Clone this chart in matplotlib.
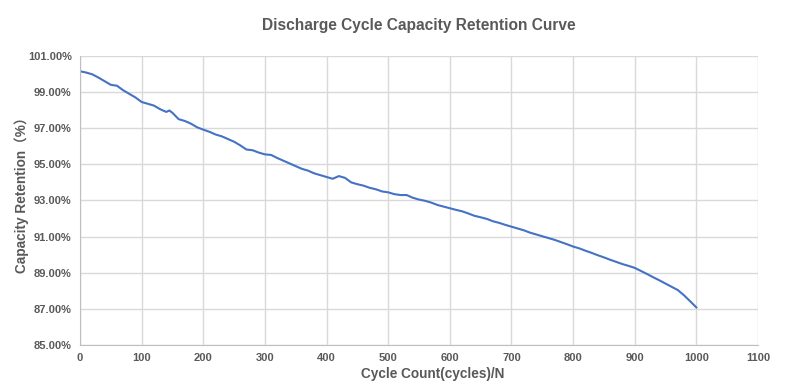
import matplotlib.pyplot as plt
from matplotlib.ticker import FuncFormatter

cycles = [0, 10, 20, 30, 40, 50, 60, 70, 80, 90,
          100, 110, 120, 130, 140, 145, 150, 160, 170, 180, 190,
          200, 210, 220, 230, 240, 250, 260, 270, 280, 290,
          300, 310, 320, 330, 340, 350, 360, 370, 380, 390,
          400, 410, 420, 430, 440, 450, 460, 470, 480, 490,
          500, 510, 520, 530, 540, 550, 560, 570, 580, 590,
          600, 610, 620, 630, 640, 650, 660, 670, 680, 690,
          700, 710, 720, 730, 740, 750, 760, 770, 780, 790,
          800, 810, 820, 830, 840, 850, 860, 870, 880, 890,
          900, 910, 920, 930, 940, 950, 960, 970, 980, 990, 1000]
retention = [100.15, 100.08, 99.98, 99.80, 99.60, 99.40, 99.35, 99.10, 98.90, 98.70,
             98.45, 98.35, 98.25, 98.05, 97.90, 97.98, 97.85, 97.50, 97.40, 97.25, 97.05,
             96.92, 96.80, 96.65, 96.55, 96.40, 96.25, 96.05, 95.82, 95.78, 95.65,
             95.55, 95.52, 95.35, 95.20, 95.05, 94.90, 94.75, 94.65, 94.50, 94.40,
             94.30, 94.20, 94.35, 94.25, 94.00, 93.90, 93.82, 93.70, 93.62, 93.50,
             93.45, 93.35, 93.30, 93.30, 93.15, 93.05, 92.98, 92.88, 92.75, 92.66,
             92.57, 92.48, 92.40, 92.28, 92.15, 92.07, 91.98, 91.85, 91.76, 91.65,
             91.55, 91.45, 91.35, 91.22, 91.12, 91.02, 90.92, 90.82, 90.70, 90.58,
             90.45, 90.35, 90.22, 90.10, 89.97, 89.85, 89.72, 89.60, 89.48, 89.38,
             89.27, 89.10, 88.93, 88.75, 88.58, 88.40, 88.22, 88.04, 87.75, 87.42, 87.08]

x_ticks = list(range(0, 1101, 100))
y_ticks = list(range(85, 102, 2))

txt = '#595959'
plt.rcParams['font.family'] = ['Liberation Sans', 'Noto Sans CJK SC', 'DejaVu Sans']

fig = plt.figure(figsize=(8, 3.91), dpi=100)
ax = fig.add_axes([0.1, 0.1176, 0.8475, 0.7394])
ax.plot(cycles, retention, color='#4472C4', linewidth=1.5)

ax.set_xlim(0, 1100)
ax.set_ylim(85, 101)
ax.set_xticks(x_ticks)
ax.set_yticks(y_ticks)
ax.yaxis.set_major_formatter(FuncFormatter(lambda v, p: f'{v:.2f}%'))
ax.grid(True, color='#d9d9d9', linewidth=1)
ax.set_axisbelow(True)
for s in ['top', 'right']:
    ax.spines[s].set_visible(False)
for s in ['left', 'bottom']:
    ax.spines[s].set_color('#bfbfbf')
ax.tick_params(length=0, pad=6, labelsize=8, labelcolor=txt)
for lab in ax.get_xticklabels() + ax.get_yticklabels():
    lab.set_fontweight('bold')

ax.set_title('Discharge Cycle Capacity Retention Curve', fontsize=11.2,
             fontweight='bold', color=txt, pad=19)
ax.set_xlabel('Cycle Count(cycles)/N', fontsize=9.8, fontweight='bold', color=txt)
ax.xaxis.set_label_coords(0.52, -0.075)
ax.set_ylabel('Capacity Retention（%）', fontsize=9.8, fontweight='bold', color=txt)
ax.yaxis.set_label_coords(-0.075, 0.53)

fig.savefig('out.png', dpi=100)
